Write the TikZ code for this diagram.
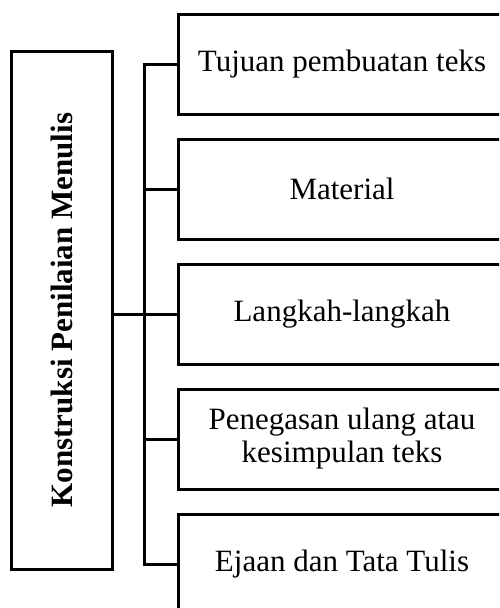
\documentclass[tikz,border=0pt]{standalone}
\usepackage{fontspec}
\setmainfont{Liberation Serif}
\usetikzlibrary{positioning}

\begin{document}
\begin{tikzpicture}[x=1pt, y=1pt, line width=3pt, node distance=125pt, on grid,
    item/.style={draw, minimum width=328pt, minimum height=100pt, inner sep=0pt,
                 align=center, font=\fontsize{31}{33}\selectfont},
    topic/.style={draw, rotate=90, minimum width=518pt, minimum height=101pt,
                  font=\fontsize{31}{33}\selectfont\bfseries}]
        \clip (0,0) rectangle (499,-608);

        \node[topic] (topic) at (61.5,-310) {Konstruksi Penilaian Menulis};

        \node[item] (i1) at (342,-64) {Tujuan pembuatan teks};
        \node[item] (i2) [below=of i1] {Material};
        \node[item] (i3) [below=of i2] {Langkah-langkah};
        \node[item] (i4) [below=of i3] {Penegasan ulang atau\\kesimpulan teks};
        \node[item] (i5) [below=of i4] {Ejaan dan Tata Tulis};

        \coordinate (trunk) at (144,0);

        \draw (i1.west) -- (i1.west -| trunk) -- (i5.west -| trunk) -- (i5.west);
        \foreach \n in {2,3,4}
            \draw (i\n.west -| trunk) -- (i\n.west);
        \draw (topic.south |- i3.west) -- (i3.west -| trunk);
\end{tikzpicture}
\end{document}
